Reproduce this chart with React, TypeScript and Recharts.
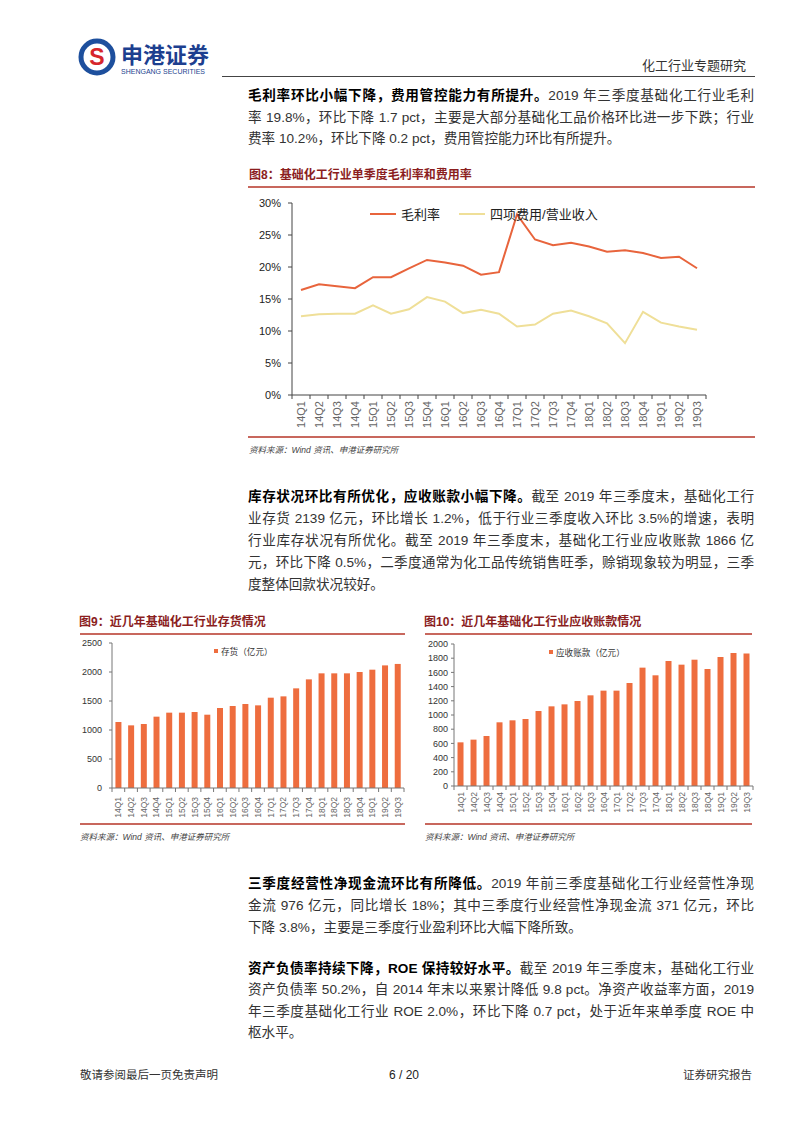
import React from 'react';
import { ComposedChart, Line, BarChart, Bar, XAxis, YAxis, Legend } from 'recharts';

// quarters shown on every chart
const quarters = [
  '14Q1', '14Q2', '14Q3', '14Q4', '15Q1', '15Q2', '15Q3', '15Q4',
  '16Q1', '16Q2', '16Q3', '16Q4', '17Q1', '17Q2', '17Q3', '17Q4',
  '18Q1', '18Q2', '18Q3', '18Q4', '19Q1', '19Q2', '19Q3',
];

// 图8 (%)
const grossMargin = [16.4, 17.3, 17.0, 16.7, 18.4, 18.4, 19.8, 21.1, 20.7, 20.2, 18.8, 19.2, 28.2, 24.3, 23.4, 23.8, 23.2, 22.4, 22.6, 22.2, 21.4, 21.6, 19.8];
const expenseRatio = [12.3, 12.6, 12.7, 12.7, 14.0, 12.7, 13.4, 15.3, 14.6, 12.8, 13.3, 12.7, 10.7, 11.0, 12.7, 13.2, 12.3, 11.2, 8.1, 13.0, 11.3, 10.7, 10.2];
const pctTicks = [0, 5, 10, 15, 20, 25, 30];
const lineOrder = ['gross', 'expense'];

// 图9 存货 (亿元)
const inventory = [1138, 1080, 1103, 1230, 1299, 1299, 1310, 1264, 1379, 1414, 1448, 1425, 1557, 1580, 1718, 1873, 1977, 1977, 1977, 2000, 2040, 2114, 2139];
const inventoryTicks = [0, 500, 1000, 1500, 2000, 2500];

// 图10 应收账款 (亿元)
const receivables = [615, 653, 704, 897, 925, 944, 1056, 1122, 1150, 1197, 1277, 1343, 1343, 1451, 1667, 1559, 1761, 1709, 1779, 1648, 1817, 1875, 1866];
const receivableTicks = [0, 200, 400, 600, 800, 1000, 1200, 1400, 1600, 1800, 2000];

const marginData = quarters.map((q, i) => ({ q, gross: grossMargin[i], expense: expenseRatio[i] }));
const inventoryData = quarters.map((q, i) => ({ q, v: inventory[i] }));
const receivableData = quarters.map((q, i) => ({ q, v: receivables[i] }));

const LATIN = '"Liberation Sans", Arial, "Noto Sans CJK SC", sans-serif';
const CJK = '"Liberation Sans", "Noto Sans CJK SC", sans-serif';
const RED_LINE = '#c8675d';
const TITLE_RED = '#8b1e1e';
const BAR = '#ee6d3e';

const paragraphs = [
  {
    top: 85, lh: 21.5,
    bold: '毛利率环比小幅下降，费用管控能力有所提升。',
    lines: [
      '毛利率环比小幅下降，费用管控能力有所提升。2019 年三季度基础化工行业毛利',
      '率 19.8%，环比下降 1.7 pct，主要是大部分基础化工品价格环比进一步下跌；行业',
      '费率 10.2%，环比下降 0.2 pct，费用管控能力环比有所提升。',
    ],
  },
  {
    top: 486, lh: 22,
    bold: '库存状况环比有所优化，应收账款小幅下降。',
    lines: [
      '库存状况环比有所优化，应收账款小幅下降。截至 2019 年三季度末，基础化工行',
      '业存货 2139 亿元，环比增长 1.2%，低于行业三季度收入环比 3.5%的增速，表明',
      '行业库存状况有所优化。截至 2019 年三季度末，基础化工行业应收账款 1866 亿',
      '元，环比下降 0.5%，二季度通常为化工品传统销售旺季，赊销现象较为明显，三季',
      '度整体回款状况较好。',
    ],
  },
  {
    top: 873, lh: 22,
    bold: '三季度经营性净现金流环比有所降低。',
    lines: [
      '三季度经营性净现金流环比有所降低。2019 年前三季度基础化工行业经营性净现',
      '金流 976 亿元，同比增长 18%；其中三季度行业经营性净现金流 371 亿元，环比',
      '下降 3.8%，主要是三季度行业盈利环比大幅下降所致。',
    ],
  },
  {
    top: 958, lh: 21.4,
    bold: '资产负债率持续下降，ROE 保持较好水平。',
    lines: [
      '资产负债率持续下降，ROE 保持较好水平。截至 2019 年三季度末，基础化工行业',
      '资产负债率 50.2%，自 2014 年末以来累计降低 9.8 pct。净资产收益率方面，2019',
      '年三季度基础化工行业 ROE 2.0%，环比下降 0.7 pct，处于近年来单季度 ROE 中',
      '枢水平。',
    ],
  },
];

function QuarterTick(props: any) {
  const { x, y, payload, index, fontSize = 8, gap = 6, fill = '#222', mark = '#555' } = props;
  const half = payload && payload.offset ? payload.offset : 0;
  const top = y - gap;
  return (
    <g>
      {index === 0 && <line x1={x - half} x2={x - half} y1={top} y2={top + 4} stroke={mark} />}
      <line x1={x + half} x2={x + half} y1={top} y2={top + 4} stroke={mark} />
      <text
        x={x}
        y={y}
        dy="0.36em"
        transform={`rotate(-90 ${x} ${y})`}
        textAnchor="end"
        fontSize={fontSize}
        fill={fill}
        fontFamily={LATIN}
      >
        {payload.value}
      </text>
    </g>
  );
}

const lineLegend = (props: any) => (
  <div style={{ display: 'flex', alignItems: 'center', fontFamily: CJK, fontSize: 13, color: '#222', whiteSpace: 'nowrap' }}>
    {(props.payload || []).map((p: any, i: number) => (
      <span key={i} style={{ display: 'flex', alignItems: 'center', marginRight: 19 }}>
        <svg width={26} height={4}>
          <line x1={0} y1={2} x2={26} y2={2} stroke={p.color} strokeWidth={2} />
        </svg>
        <span style={{ marginLeft: 5 }}>{p.value}</span>
      </span>
    ))}
  </div>
);

const barLegend = (props: any) => (
  <div style={{ display: 'flex', alignItems: 'center', fontFamily: CJK, fontSize: 8.6, color: '#333', whiteSpace: 'nowrap' }}>
    {(props.payload || []).map((p: any, i: number) => (
      <span key={i} style={{ display: 'flex', alignItems: 'center' }}>
        <span style={{ width: 4, height: 4, background: p.color, marginRight: 3 }} />
        <span>{p.value}</span>
      </span>
    ))}
  </div>
);

function Paragraph({ p }: { p: (typeof paragraphs)[number] }) {
  return (
    <div style={{ position: 'absolute', left: 248, top: p.top, width: 506, fontFamily: CJK, fontSize: 13.6, color: '#333', lineHeight: `${p.lh}px` }}>
      {p.lines.map((line, i) => {
        const last = i === p.lines.length - 1;
        return (
          <div key={i} style={{ textAlign: 'justify', textAlignLast: last ? 'left' : 'justify', whiteSpace: 'nowrap' }}>
            {i === 0 ? (
              <>
                <b style={{ color: '#000' }}>{p.bold}</b>
                {line.slice(p.bold.length)}
              </>
            ) : (
              line
            )}
          </div>
        );
      })}
    </div>
  );
}

function Rule({ x, y, w, color = RED_LINE, h = 1.5 }: { x: number; y: number; w: number; color?: string; h?: number }) {
  return <div style={{ position: 'absolute', left: x, top: y, width: w, height: h, background: color }} />;
}

function Label({ x, y, children, style }: { x: number; y: number; children: React.ReactNode; style?: React.CSSProperties }) {
  return (
    <div style={{ position: 'absolute', left: x, top: y, whiteSpace: 'nowrap', fontFamily: CJK, ...style }}>{children}</div>
  );
}

const titleStyle: React.CSSProperties = { fontSize: 12, fontWeight: 700, color: TITLE_RED, lineHeight: '14px' };
const sourceStyle: React.CSSProperties = { fontSize: 8.5, fontStyle: 'italic', color: '#444', lineHeight: '12px' };

export default function App() {
  return (
    <div style={{ position: 'absolute', left: 0, top: 0, width: 802, height: 1133, background: '#fff', overflow: 'hidden' }}>
      {/* header */}
      <svg style={{ position: 'absolute', left: 78, top: 38 }} width={38} height={38}>
        <circle cx={19} cy={19} r={16} fill="#fff" stroke="#1d4f9d" strokeWidth={5} />
        <text x={19} y={27} textAnchor="middle" fontSize={23} fontWeight={700} fill="#d6262b" fontFamily={LATIN}>S</text>
      </svg>
      <Label x={121} y={43} style={{ fontSize: 22, fontWeight: 700, color: '#1d3f8f', lineHeight: '26px' }}>申港证券</Label>
      <Label x={121} y={67} style={{ fontSize: 7, color: '#1d3f8f', fontFamily: LATIN, lineHeight: '9px' }}>SHENGANG SECURITIES</Label>
      <Label x={642} y={58} style={{ fontSize: 13, color: '#333', lineHeight: '16px' }}>化工行业专题研究</Label>
      <Rule x={222} y={76} w={533} color="#444" h={1} />

      {paragraphs.map((p, i) => (
        <Paragraph key={i} p={p} />
      ))}

      {/* 图8 */}
      <Label x={249} y={168} style={titleStyle}>图8：基础化工行业单季度毛利率和费用率</Label>
      <Rule x={248} y={186} w={507} />
      <div style={{ position: 'absolute', left: 240, top: 195 }}>
        <ComposedChart width={520} height={240} data={marginData} margin={{ top: 8, right: 54, bottom: 0, left: 0 }}>
          <XAxis
            dataKey="q"
            scale="band"
            interval={0}
            height={40}
            tickSize={4}
            tickMargin={2}
            tickLine={false}
            axisLine={{ stroke: '#444' }}
            tick={<QuarterTick fontSize={11} gap={6} mark="#444" />}
          />
          <YAxis
            domain={[0, 30]}
            ticks={pctTicks}
            interval={0}
            tickFormatter={(v) => `${v}%`}
            width={52}
            tickSize={4}
            tickMargin={7}
            axisLine={{ stroke: '#444' }}
            tickLine={{ stroke: '#444' }}
            tick={{ fontSize: 11, fill: '#222', fontFamily: LATIN }}
          />
          <Legend
            layout="horizontal"
            verticalAlign="middle"
            align="center"
            itemSorter={(item: any) => lineOrder.indexOf(item.dataKey)}
            wrapperStyle={{ left: 130, top: 9, width: 'auto', height: 'auto' }}
            content={lineLegend}
          />
          <Line dataKey="gross" name="毛利率" stroke="#e8643c" strokeWidth={2} dot={false} isAnimationActive={false} />
          <Line dataKey="expense" name="四项费用/营业收入" stroke="#efdf98" strokeWidth={2} dot={false} isAnimationActive={false} />
        </ComposedChart>
      </div>
      <Rule x={248} y={436} w={507} />
      <Label x={249} y={444} style={sourceStyle}>资料来源：Wind 资讯、申港证券研究所</Label>

      {/* 图9 */}
      <Label x={79} y={615} style={titleStyle}>图9：近几年基础化工行业存货情况</Label>
      <Rule x={80} y={633} w={325} />
      <div style={{ position: 'absolute', left: 70, top: 636 }}>
        <BarChart width={340} height={187} data={inventoryData} margin={{ top: 7, right: 6, bottom: 0, left: 0 }} barCategoryGap="27%">
          <XAxis
            dataKey="q"
            interval={0}
            height={35}
            tickSize={4}
            tickMargin={5}
            tickLine={false}
            axisLine={{ stroke: '#777' }}
            tick={<QuarterTick fontSize={8.5} gap={9} mark="#777" />}
          />
          <YAxis
            domain={[0, 2500]}
            ticks={inventoryTicks}
            interval={0}
            width={42}
            tickSize={3}
            tickMargin={7}
            axisLine={{ stroke: '#777' }}
            tickLine={{ stroke: '#777' }}
            tick={{ fontSize: 9, fill: '#333', fontFamily: LATIN }}
          />
          <Legend layout="horizontal" verticalAlign="middle" align="center" wrapperStyle={{ left: 144, top: 9, width: 'auto', height: 'auto' }} content={barLegend} />
          <Bar dataKey="v" name="存货（亿元）" fill={BAR} isAnimationActive={false} />
        </BarChart>
      </div>
      <Rule x={80} y={823} w={325} />
      <Label x={80} y={831} style={sourceStyle}>资料来源：Wind 资讯、申港证券研究所</Label>

      {/* 图10 */}
      <Label x={424} y={615} style={titleStyle}>图10：近几年基础化工行业应收账款情况</Label>
      <Rule x={425} y={633} w={327} />
      <div style={{ position: 'absolute', left: 415, top: 636 }}>
        <BarChart width={340} height={187} data={receivableData} margin={{ top: 8, right: 2, bottom: 0, left: 0 }} barCategoryGap="27%">
          <XAxis
            dataKey="q"
            interval={0}
            height={37}
            tickSize={3}
            tickMargin={3}
            tickLine={false}
            axisLine={{ stroke: '#777' }}
            tick={<QuarterTick fontSize={8.5} gap={6} mark="#777" />}
          />
          <YAxis
            domain={[0, 2000]}
            ticks={receivableTicks}
            interval={0}
            width={39}
            tickSize={3}
            tickMargin={3}
            axisLine={{ stroke: '#777' }}
            tickLine={{ stroke: '#777' }}
            tick={{ fontSize: 9, fill: '#333', fontFamily: LATIN }}
          />
          <Legend layout="horizontal" verticalAlign="middle" align="center" wrapperStyle={{ left: 134, top: 10, width: 'auto', height: 'auto' }} content={barLegend} />
          <Bar dataKey="v" name="应收账款（亿元）" fill={BAR} isAnimationActive={false} />
        </BarChart>
      </div>
      <Rule x={425} y={823} w={327} />
      <Label x={425} y={831} style={sourceStyle}>资料来源：Wind 资讯、申港证券研究所</Label>

      {/* footer */}
      <Label x={80} y={1067} style={{ fontSize: 11.5, color: '#333', lineHeight: '16px' }}>敬请参阅最后一页免责声明</Label>
      <Label x={386} y={1067} style={{ fontSize: 12, color: '#222', fontFamily: LATIN, lineHeight: '16px', width: 36, textAlign: 'center' }}>6 / 20</Label>
      <Label x={683} y={1067} style={{ fontSize: 11.5, color: '#333', lineHeight: '16px' }}>证券研究报告</Label>
    </div>
  );
}
